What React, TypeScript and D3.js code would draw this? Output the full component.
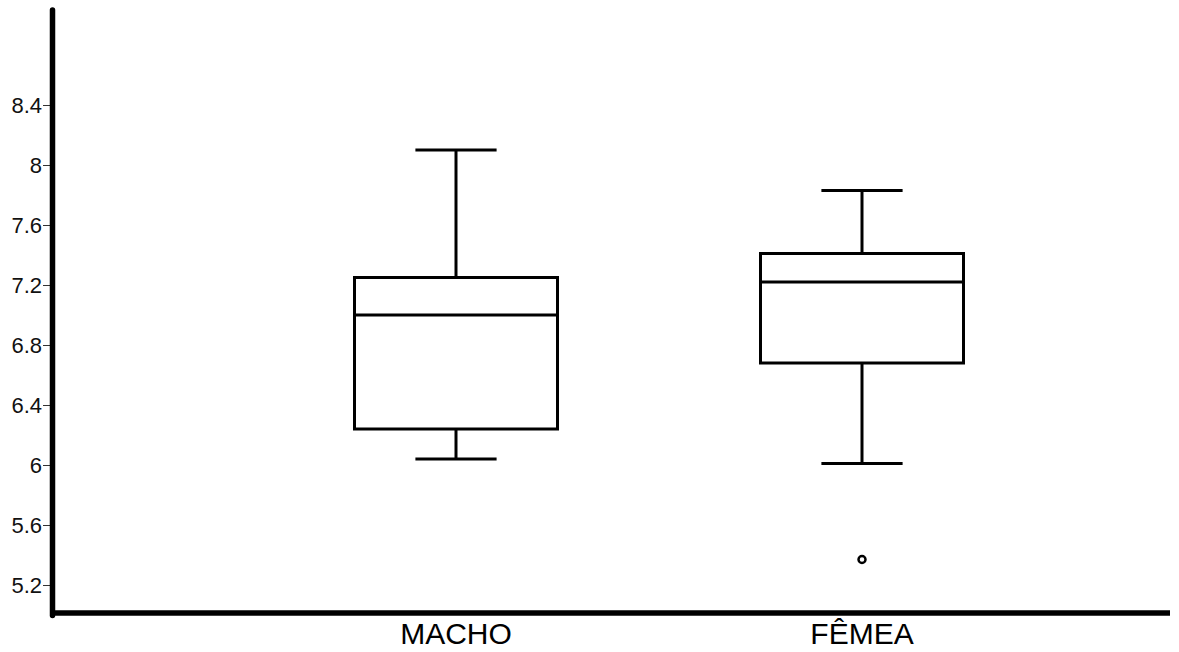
import * as d3 from 'd3';
import { useEffect, useRef } from 'react';

const categories = ['MACHO', 'FÊMEA'];
const whiskerLow = [6.04, 6.01];
const q1 = [6.24, 6.68];
const median = [7.0, 7.22];
const q3 = [7.25, 7.41];
const whiskerHigh = [8.1, 7.83];
const outliers = [[], [5.37]];
const yTicks = [5.2, 5.6, 6, 6.4, 6.8, 7.2, 7.6, 8, 8.4];

const W = 1179;
const H = 652;

const BoxPlot = () => {
  const ref = useRef<SVGSVGElement>(null);

  useEffect(() => {
    d3.select(ref.current).selectAll('*').remove();

    const svg = d3.select(ref.current)
      .attr('width', W)
      .attr('height', H);

    const axisX = 52.5;
    const axisY = 613;

    const y = d3.scaleLinear()
      .domain([5.2, 8.4])
      .range([585, 105]);

    const x = d3.scaleBand()
      .domain(categories)
      .range([253, 1065])
      .paddingInner(0.5)
      .paddingOuter(0.25);

    const data = categories.map((c, i) => ({
      cat: c,
      lo: whiskerLow[i],
      q1: q1[i],
      med: median[i],
      q3: q3[i],
      hi: whiskerHigh[i],
      out: outliers[i],
    }));

    // y ticks and labels
    const yAxis = svg.append('g')
      .attr('transform', `translate(${axisX - 2.5},0)`)
      .call(d3.axisLeft(y).tickValues(yTicks).tickSize(7).tickPadding(1).tickFormat(d => String(d)));
    yAxis.select('.domain').remove();
    yAxis.selectAll('line').attr('stroke', '#333').attr('stroke-width', 1);
    yAxis.selectAll('text')
      .attr('fill', '#111')
      .style('font-family', '"Liberation Sans", Arial, sans-serif')
      .style('font-size', '22px');

    // heavy axis lines
    svg.append('line')
      .attr('x1', axisX).attr('x2', axisX)
      .attr('y1', 10).attr('y2', axisY + 2.5)
      .attr('stroke', '#000').attr('stroke-width', 5.5)
      .attr('stroke-linecap', 'round');
    svg.append('line')
      .attr('x1', axisX - 2.5).attr('x2', 1170)
      .attr('y1', axisY).attr('y2', axisY)
      .attr('stroke', '#000').attr('stroke-width', 5.5);

    // x labels
    svg.selectAll('.xlabel')
      .data(categories)
      .enter()
      .append('text')
      .attr('class', 'xlabel')
      .attr('x', d => x(d)! + x.bandwidth() / 2)
      .attr('y', 644)
      .attr('text-anchor', 'middle')
      .style('font-family', '"Liberation Sans", Arial, sans-serif')
      .style('font-size', '30px')
      .attr('fill', '#000')
      .text(d => d);

    const g = svg.selectAll('.box')
      .data(data)
      .enter()
      .append('g')
      .attr('class', 'box');

    const cx = (d: any) => x(d.cat)! + x.bandwidth() / 2;
    const capW = x.bandwidth() * 0.4;

    // whiskers
    g.append('line')
      .attr('x1', cx).attr('x2', cx)
      .attr('y1', d => y(d.hi)).attr('y2', d => y(d.q3))
      .attr('stroke', '#000').attr('stroke-width', 3);
    g.append('line')
      .attr('x1', cx).attr('x2', cx)
      .attr('y1', d => y(d.q1)).attr('y2', d => y(d.lo))
      .attr('stroke', '#000').attr('stroke-width', 3);
    g.append('line')
      .attr('x1', d => cx(d) - capW / 2).attr('x2', d => cx(d) + capW / 2)
      .attr('y1', d => y(d.hi)).attr('y2', d => y(d.hi))
      .attr('stroke', '#000').attr('stroke-width', 3);
    g.append('line')
      .attr('x1', d => cx(d) - capW / 2).attr('x2', d => cx(d) + capW / 2)
      .attr('y1', d => y(d.lo)).attr('y2', d => y(d.lo))
      .attr('stroke', '#000').attr('stroke-width', 3);

    // box
    g.append('rect')
      .attr('x', d => x(d.cat)!)
      .attr('y', d => y(d.q3))
      .attr('width', x.bandwidth())
      .attr('height', d => y(d.q1) - y(d.q3))
      .attr('fill', '#fff')
      .attr('stroke', '#000')
      .attr('stroke-width', 3);

    // median
    g.append('line')
      .attr('x1', d => x(d.cat)!).attr('x2', d => x(d.cat)! + x.bandwidth())
      .attr('y1', d => y(d.med)).attr('y2', d => y(d.med))
      .attr('stroke', '#000').attr('stroke-width', 3);

    // outliers
    g.selectAll('circle')
      .data(d => d.out.map(v => ({ cat: d.cat, v })))
      .enter()
      .append('circle')
      .attr('cx', cx)
      .attr('cy', d => y(d.v))
      .attr('r', 3.5)
      .attr('fill', '#fff')
      .attr('stroke', '#000')
      .attr('stroke-width', 2.5);
  }, []);

  return <svg ref={ref} style={{ position: 'absolute', left: 0, top: 0, background: '#fff' }}></svg>;
};

export default function App() {
  return <BoxPlot />;
}
